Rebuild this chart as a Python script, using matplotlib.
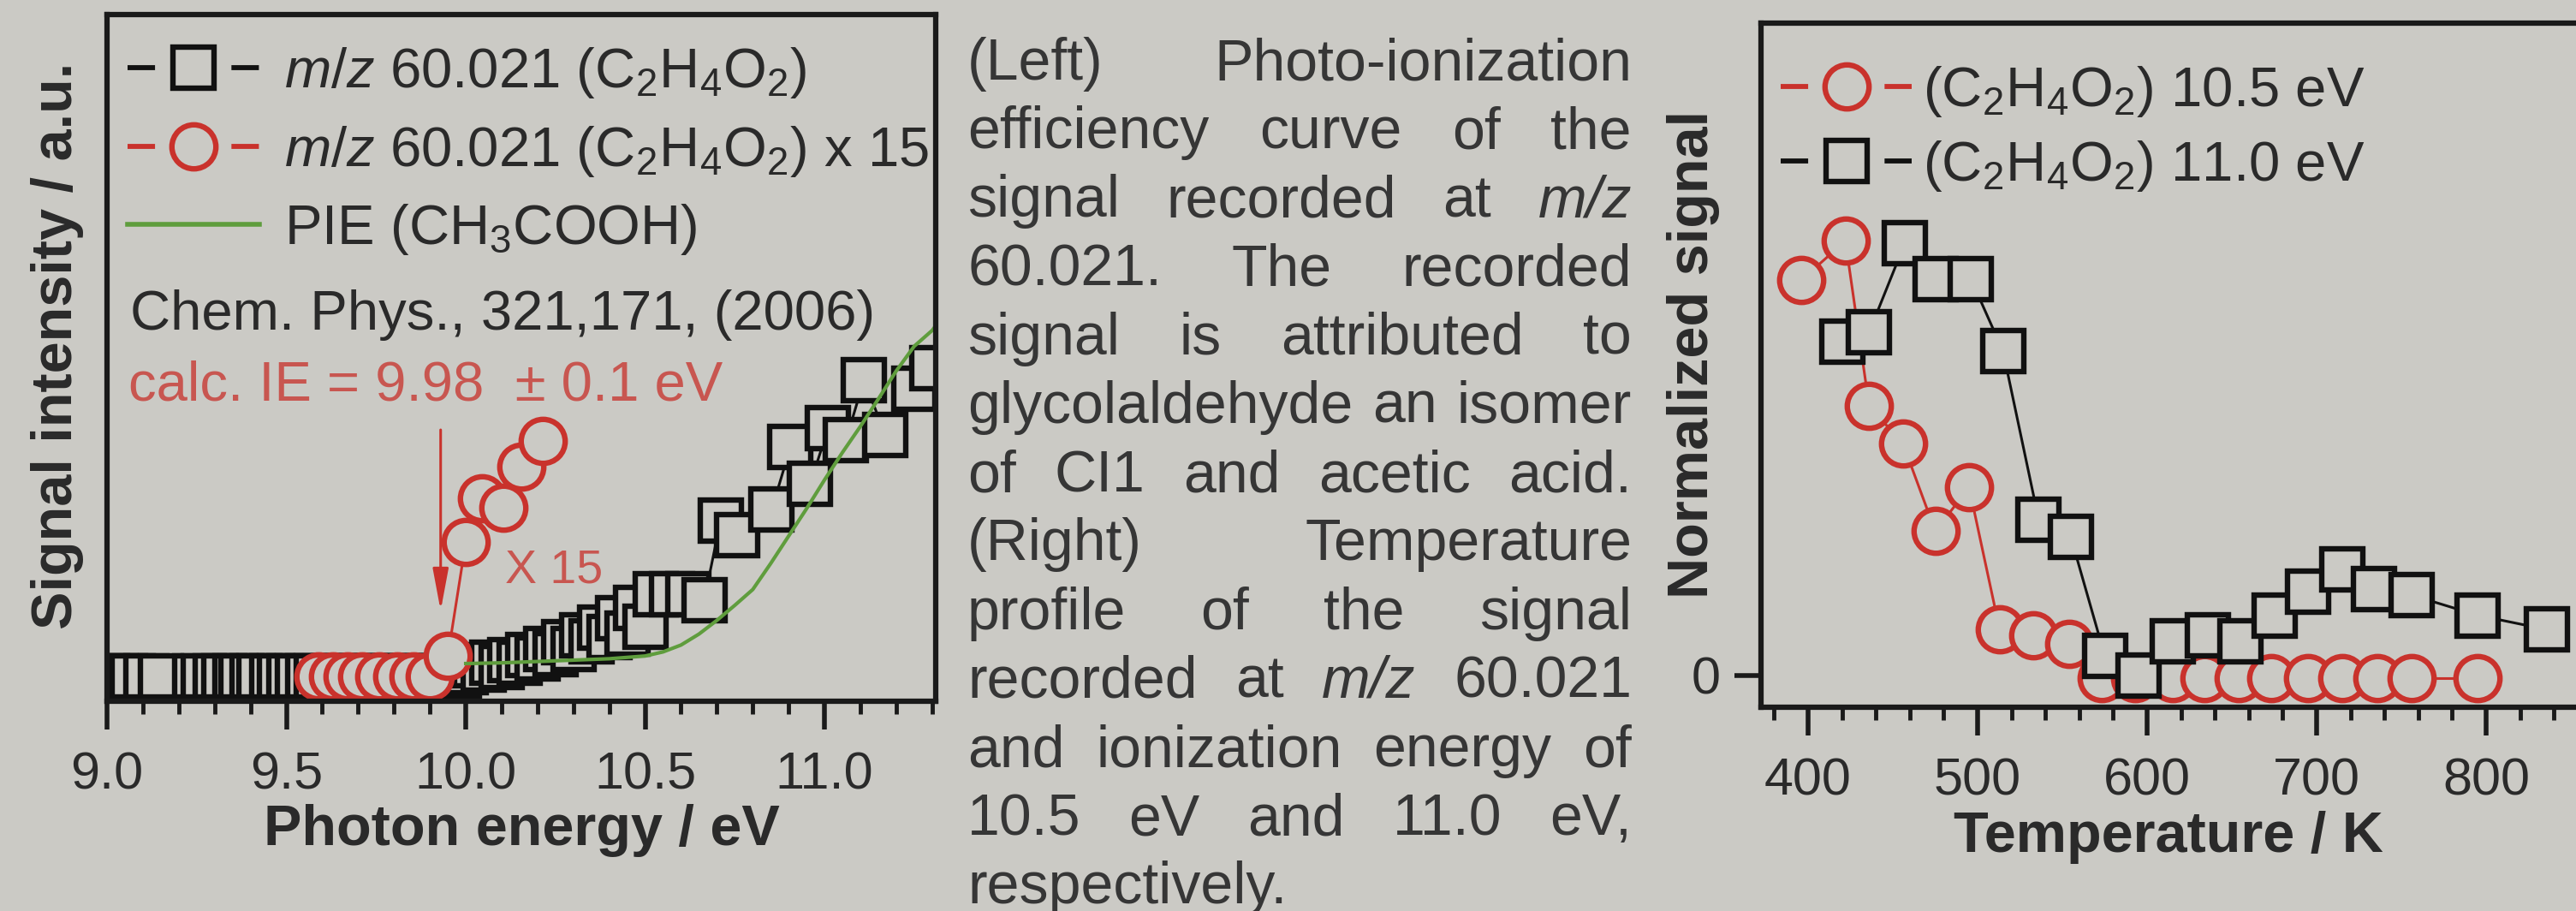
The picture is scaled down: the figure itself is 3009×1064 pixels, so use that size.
import matplotlib
matplotlib.use("Agg")
import matplotlib.pyplot as plt
from matplotlib.lines import Line2D
from matplotlib.ticker import MultipleLocator

plt.rcParams['font.family'] = ['Liberation Sans', 'DejaVu Sans']
plt.rcParams['mathtext.fontset'] = 'custom'
plt.rcParams['mathtext.rm'] = 'Liberation Sans'
plt.rcParams['mathtext.it'] = 'Liberation Sans:italic'
plt.rcParams['mathtext.bf'] = 'Liberation Sans:bold'

W, H = 3009, 1064
bg = '#cbcac5'
ink = '#2a2a2a'
red = '#c9322c'
red_text = '#c85650'
green = '#5f9d3d'

# left panel: photo-ionization efficiency at m/z 60.021
pie_sq_ev = [9.000, 9.025, 9.050, 9.072, 9.110, 9.150, 9.246, 9.270, 9.303, 9.327,
             9.358, 9.375, 9.406, 9.425, 9.461, 9.482, 9.508, 9.532, 9.561, 9.585,
             9.610, 9.635, 9.660, 9.685, 9.710, 9.735, 9.760, 9.785, 9.810, 9.835,
             9.860, 9.885, 9.910, 9.935, 9.960, 9.980,
             10.000, 10.025, 10.050, 10.075, 10.100, 10.125, 10.150, 10.175, 10.200,
             10.225, 10.250, 10.275, 10.300, 10.325, 10.350, 10.375, 10.400, 10.425,
             10.450, 10.475, 10.500, 10.530, 10.575, 10.620, 10.665,
             10.710, 10.757, 10.853, 10.905, 10.960, 11.010, 11.060, 11.110, 11.170,
             11.250, 11.300]
pie_sq_sig = [0.0, 0.0, 0.0, 0.0, 0.0, 0.0, 0.0, 0.0, 0.0, 0.0,
              0.0, 0.0, 0.0, 0.0, 0.0, 0.0, 0.0, 0.0, 0.0, 0.0,
              0.0, 0.0, 0.0, 0.0, 0.0, 0.0, 0.0, 0.0, 0.0, 0.0,
              0.0, 0.0, 0.0, 0.0, 0.0, 0.0,
              0.006, 0.017, 0.010, 0.020, 0.014, 0.024, 0.020, 0.031, 0.026,
              0.040, 0.033, 0.050, 0.040, 0.060, 0.052, 0.072, 0.058, 0.085,
              0.063, 0.100, 0.073, 0.120, 0.120, 0.120, 0.112,
              0.227, 0.206, 0.244, 0.335, 0.281, 0.362, 0.345, 0.433, 0.352,
              0.420, 0.450]
pie_x15_ev = [9.590, 9.630, 9.670, 9.710, 9.760, 9.810, 9.855, 9.900, 9.950,
              10.000, 10.045, 10.105, 10.155, 10.215]
pie_x15_sig = [0.0, 0.0, 0.0, 0.0, 0.0, 0.0, 0.0, 0.0, 0.030,
               0.196, 0.260, 0.246, 0.306, 0.344]
ref_ev = [10.00, 10.10, 10.20, 10.30, 10.40, 10.50, 10.55, 10.60, 10.65, 10.70,
          10.75, 10.80, 10.85, 10.90, 10.95, 11.00, 11.05, 11.10, 11.15, 11.20,
          11.25, 11.30, 11.35]
ref_sig = [0.019, 0.020, 0.022, 0.024, 0.026, 0.030, 0.036, 0.046, 0.062, 0.082,
           0.104, 0.127, 0.165, 0.205, 0.245, 0.287, 0.327, 0.365, 0.405, 0.446,
           0.482, 0.505, 0.540]
ie_value = 9.93
ie_arrow = (0.36, 0.096)

# right panel: temperature profiles
t105_k = [396, 422, 436, 456, 475, 495, 513, 533, 554, 573,
          593, 615, 634, 654, 673, 695, 715, 736, 756, 795]
t105_sig = [0.606, 0.666, 0.413, 0.355, 0.221, 0.288, 0.070, 0.061, 0.048, -0.005,
            -0.005, -0.005, -0.005, -0.005, -0.005, -0.005, -0.005, -0.005, -0.005, -0.005]
t110_k = [420, 436, 457, 475, 496, 515, 536, 555, 575, 595,
          615, 636, 655, 675, 695, 715, 734, 756, 795, 836]
t110_sig = [0.511, 0.526, 0.662, 0.608, 0.608, 0.497, 0.239, 0.212, 0.030, -0.001,
            0.052, 0.061, 0.052, 0.092, 0.128, 0.163, 0.132, 0.123, 0.092, 0.070]

caption = ["(Left) Photo-ionization",
           "efficiency curve of the",
           "signal recorded at m/z",
           "60.021. The recorded",
           "signal is attributed to",
           "glycolaldehyde an isomer",
           "of CI1 and acetic acid.",
           "(Right) Temperature",
           "profile of the signal",
           "recorded at m/z 60.021",
           "and ionization energy of",
           "10.5 eV and 11.0 eV,",
           "respectively."]

fig = plt.figure(figsize=(W / 100, H / 100), dpi=100, facecolor=bg)


def px_axes(x0, y0, x1, y1):
    return fig.add_axes([x0 / W, 1 - y1 / H, (x1 - x0) / W, (y1 - y0) / H])


def frame(ax):
    ax.set_facecolor(bg)
    for s in ax.spines.values():
        s.set_linewidth(4.5)
        s.set_color('#1a1a1a')
    ax.tick_params(axis='x', which='major', direction='out', length=24, width=4,
                   pad=18, labelsize=44, colors='#1a1a1a', labelcolor=ink)
    ax.tick_params(axis='x', which='minor', direction='out', length=11, width=3.5,
                   colors='#1a1a1a')


def key(color, marker=None, ms=0, label=''):
    # legend proxy drawn "-o-" style: short dash, marker, short dash
    if marker is None:
        return Line2D([], [], color=color, lw=4, label=label)
    return Line2D([], [], color=color, lw=4.2, ls=(0, (5.5, 15.3)), marker=marker,
                  ms=ms, mew=4.6, mfc=bg, label=label)


mk = dict(mew=4.6, mfc=bg, lw=2.2)
sq_ms, ci_ms = 34, 37

# ---- left panel
ax = px_axes(125, 17, 1093, 819)
frame(ax)
ax.plot(pie_sq_ev, pie_sq_sig, '-s', color='#111111', ms=sq_ms, **mk)
ax.plot(pie_x15_ev, pie_x15_sig, '-o', color=red, ms=ci_ms, **mk)
ax.plot(ref_ev, ref_sig, '-', color=green, lw=3)
ax.set_xlim(9.0, 11.31)
ax.set_ylim(-0.036, 0.966)
ax.xaxis.set_major_locator(MultipleLocator(0.5))
ax.xaxis.set_minor_locator(MultipleLocator(0.1))
ax.xaxis.set_major_formatter(lambda v, p: f'{v:.1f}')
ax.set_yticks([])
ax.set_xlabel('Photon energy / eV', fontsize=48, fontweight='bold', color=ink, va='center')
ax.xaxis.set_label_coords(0.5, -0.188)
ax.set_ylabel('Signal intensity / a.u.', fontsize=48, fontweight='bold', color=ink, va='center')
ax.yaxis.set_label_coords(-0.06, 0.517)
ax.legend(handles=[key('#111111', 's', sq_ms, r'$\mathit{m/z}$ 60.021 (C$_2$H$_4$O$_2$)'),
                   key(red, 'o', ci_ms, r'$\mathit{m/z}$ 60.021 (C$_2$H$_4$O$_2$) x 15'),
                   key(green, label='PIE (CH$_3$COOH)')],
          loc='upper left', bbox_to_anchor=(0.025, 0.955),
          borderaxespad=0, borderpad=0, handlelength=2.35, handletextpad=0.45,
          labelspacing=0.42, frameon=False, fontsize=47, labelcolor=ink)
ax.text(0.028, 0.562, 'Chem. Phys., 321,171, (2006)', transform=ax.transAxes,
        fontsize=47, color=ink, va='center')
ax.text(0.026, 0.459, 'calc. IE = 9.98  \u00b1 0.1 eV', transform=ax.transAxes,
        fontsize=47, color=red_text, va='center')
ax.annotate('', xy=(ie_value, ie_arrow[1]), xytext=(ie_value, ie_arrow[0]),
            arrowprops=dict(arrowstyle='-|>,head_length=1.5,head_width=0.28',
                            color=red, lw=2.2, shrinkA=0, shrinkB=0, mutation_scale=20))
ax.text(10.11, 0.154, 'X 15', fontsize=40, color=red_text, va='center')

# ---- right panel
ax2 = px_axes(2057, 27, 3100, 826)
frame(ax2)
ax2.spines['right'].set_visible(False)
ax2.plot(t105_k, t105_sig, '-o', color=red, ms=ci_ms, **mk)
ax2.plot(t110_k, t110_sig, '-s', color='#111111', ms=sq_ms, **mk)
ax2.set_xlim(372.2, 899)
ax2.set_ylim(-0.049, 1.0)
ax2.xaxis.set_major_locator(MultipleLocator(100))
ax2.xaxis.set_minor_locator(MultipleLocator(20))
ax2.set_yticks([0])
ax2.tick_params(axis='y', direction='out', length=22, width=4, pad=12,
                labelsize=44, colors='#1a1a1a', labelcolor=ink)
ax2.set_xlabel('Temperature / K', fontsize=48, fontweight='bold', color=ink, va='center')
ax2.xaxis.set_label_coords(0.456, -0.19)
ax2.set_ylabel('Normalized signal', fontsize=48, fontweight='bold', color=ink, va='center')
ax2.yaxis.set_label_coords(-0.0757, 0.516)
ax2.legend(handles=[key(red, 'o', ci_ms, r'(C$_2$H$_4$O$_2$) 10.5 eV'),
                    key('#111111', 's', sq_ms, r'(C$_2$H$_4$O$_2$) 11.0 eV')],
           loc='upper left', bbox_to_anchor=(0.022, 0.94),
           borderaxespad=0, borderpad=0, handlelength=2.35, handletextpad=0.2,
           labelspacing=0.35, frameon=False, fontsize=47, labelcolor=ink)

# ---- justified caption in the middle column
renderer = fig.canvas.get_renderer()
x_left, x_right = 1130, 1906
for i, line in enumerate(caption):
    words = line.split()
    yb = 1 - (93 + i * 80.2) / H
    arts = [fig.text(0, yb, w, fontsize=49, color='#363636', va='baseline',
                     style='italic' if w == 'm/z' else 'normal') for w in words]
    widths = [t.get_window_extent(renderer).width for t in arts]
    if i == len(caption) - 1:
        gap = 0.278 * 49 * 100 / 72
    else:
        gap = (x_right - x_left - sum(widths)) / (len(words) - 1)
    x = x_left
    for t, w in zip(arts, widths):
        t.set_x(x / W)
        x += w + gap

fig.savefig('out.png', dpi=100, facecolor=bg)
